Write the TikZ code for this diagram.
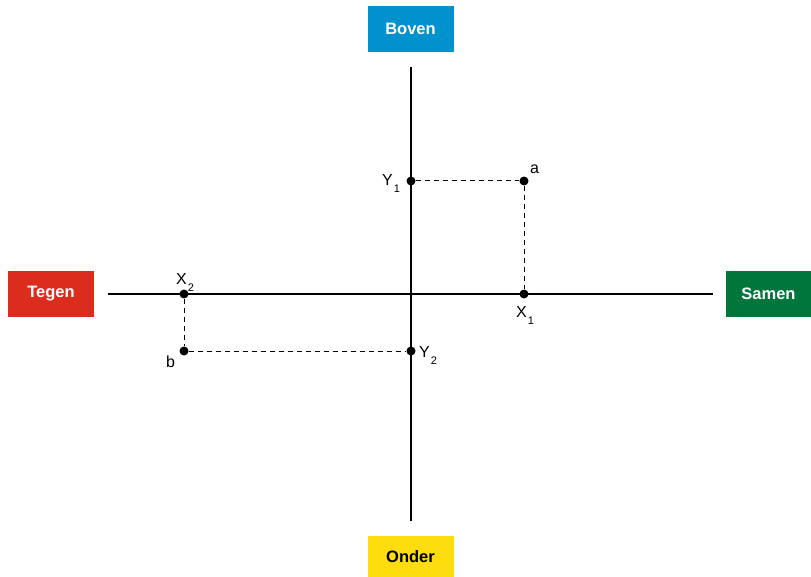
\documentclass[tikz,border=0pt]{standalone}
\usepackage{fontspec}
\setmainfont{Liberation Sans}
\definecolor{bovenblue}{RGB}{0,146,206}
\definecolor{tegenred}{RGB}{220,44,30}
\definecolor{samengreen}{RGB}{0,118,60}
\definecolor{onderyellow}{RGB}{253,221,14}
\newcommand{\sublbl}[2]{#1\kern1pt\raisebox{-7pt}{\fontsize{11}{11}\selectfont #2}}
\begin{document}
\begin{tikzpicture}[x=1pt,y=-1pt]
\tikzstyle{every node}+=[inner sep=0pt]
\tikzstyle{dot}=[circle,fill=black,minimum size=9pt]
\tikzstyle{sidebox}=[minimum width=86pt,minimum height=46pt,text=white,font=\fontsize{16.5}{18}\selectfont\bfseries]
\tikzstyle{lbl}=[anchor=base west,font=\fontsize{16}{18}\selectfont]
\useasboundingbox (0,0) rectangle (811,577);
% side boxes
\node [sidebox,fill=bovenblue] (boven) at (410.5,29) {Boven};
\node [sidebox,fill=tegenred] (tegen) at (51,294) {Tegen};
\node [sidebox,fill=samengreen,minimum width=85pt] (samen) at (768.5,294) {Samen};
\node [sidebox,fill=onderyellow,text=black,minimum height=41pt] (onder) at (410.5,556.5) {Onder};
% axes
\coordinate (top) at (411,67);
\coordinate (bottom) at (411,521);
\coordinate (left) at (108,294);
\coordinate (right) at (713,294);
\draw [line width=1.5pt] (top) -- (bottom);
\draw [line width=1.5pt] (left) -- (right);
% points
\node [dot] (a) at (524,181) {};
\node [dot] (x1) at (524,294) {};
\node [dot] (y1) at (411,181) {};
\node [dot] (b) at (184,351) {};
\node [dot] (x2) at (184,294) {};
\node [dot] (y2) at (411,351) {};
\draw [dash pattern=on 5pt off 4pt,line width=1pt] (y1) -- (a) -- (x1);
\draw [dash pattern=on 5pt off 4pt,line width=1pt] (x2) -- (b) -- (y2);
% labels
\draw (530,174) node [lbl] {a};
\draw (382,186) node [lbl] {\sublbl{Y}{1}};
\draw (516,317) node [lbl] {\sublbl{X}{1}};
\draw (176,284) node [lbl] {\sublbl{X}{2}};
\draw (166,367) node [lbl] {b};
\draw (419,357) node [lbl] {\sublbl{Y}{2}};
\end{tikzpicture}
\end{document}
